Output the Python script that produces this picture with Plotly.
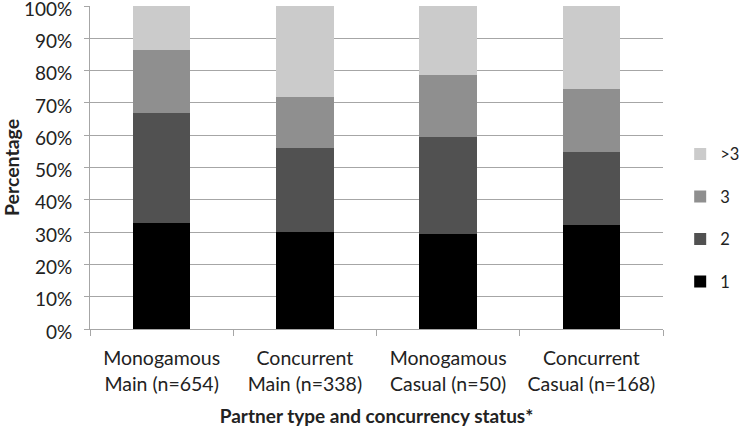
import plotly.graph_objects as go

categories = [
    'Monogamous<br>Main (n=654)',
    'Concurrent<br>Main (n=338)',
    'Monogamous<br>Casual (n=50)',
    'Concurrent<br>Casual (n=168)',
]
series_names = ['1', '2', '3', '>3']
pct_1 = [32.8, 30.0, 29.3, 32.1]
pct_2 = [34.0, 25.9, 30.2, 22.6]
pct_3 = [19.6, 15.9, 19.0, 19.6]
pct_gt3 = [13.6, 28.2, 21.5, 25.7]
y_ticks = [0, 10, 20, 30, 40, 50, 60, 70, 80, 90, 100]
y_tick_labels = [f'{t}%' for t in y_ticks]

_COLORS = ['#000000', '#515151', '#8f8f8f', '#cbcbcb']
_FONT = 'Lato, "Open Sans", sans-serif'
_GRID = '#a6a6a6'
_FS = 19

fig = go.Figure()
for i, (name, vals, col) in enumerate(zip(series_names, [pct_1, pct_2, pct_3, pct_gt3], _COLORS)):
    fig.add_trace(go.Bar(
        x=categories, y=vals, name=name,
        marker=dict(color=col, line=dict(width=0)),
        legendgroup=name,
        legendrank=100 - i,
    ))

fig.update_layout(
    barmode='stack',
    bargap=0.6,
    width=739,
    height=427,
    margin=dict(l=90, r=76, t=6, b=98, autoexpand=False),
    paper_bgcolor='white',
    plot_bgcolor='white',
    font=dict(family=_FONT, size=_FS, color='#222222'),
    xaxis=dict(
        automargin=False,
        showline=True, linecolor=_GRID, linewidth=1,
        ticks='outside', tickson='boundaries', ticklen=6, tickcolor=_GRID,
        ticklabelstandoff=12,
        tickfont=dict(size=19.5),
        title=dict(text='<b>Partner type and concurrency status*</b>',
                   font=dict(size=_FS), standoff=25),
    ),
    yaxis=dict(
        automargin=False,
        range=[0, 100],
        tickvals=y_ticks, ticktext=y_tick_labels,
        ticklabeloverflow='allow',
        ticklabelshift=3,
        showline=True, linecolor=_GRID, linewidth=1,
        ticks='outside', ticklen=5, tickcolor=_GRID,
        ticklabelstandoff=8,
        showgrid=True, gridcolor=_GRID, gridwidth=1,
        zeroline=False,
        tickfont=dict(size=_FS),
        title=dict(text='<b>Percentage</b>', font=dict(size=19.5), standoff=20),
    ),
    legend=dict(
        x=1.03, xanchor='left', y=0.595, yanchor='top',
        traceorder='grouped',
        tracegroupgap=18,
        font=dict(size=16.5),
        itemwidth=30,
    ),
)

# page body has an 8px default margin; drop it so the figure sits at the corner
fig.write_html('out.html', config={'displayModeBar': False},
               post_script="document.body.style.margin='0';")
